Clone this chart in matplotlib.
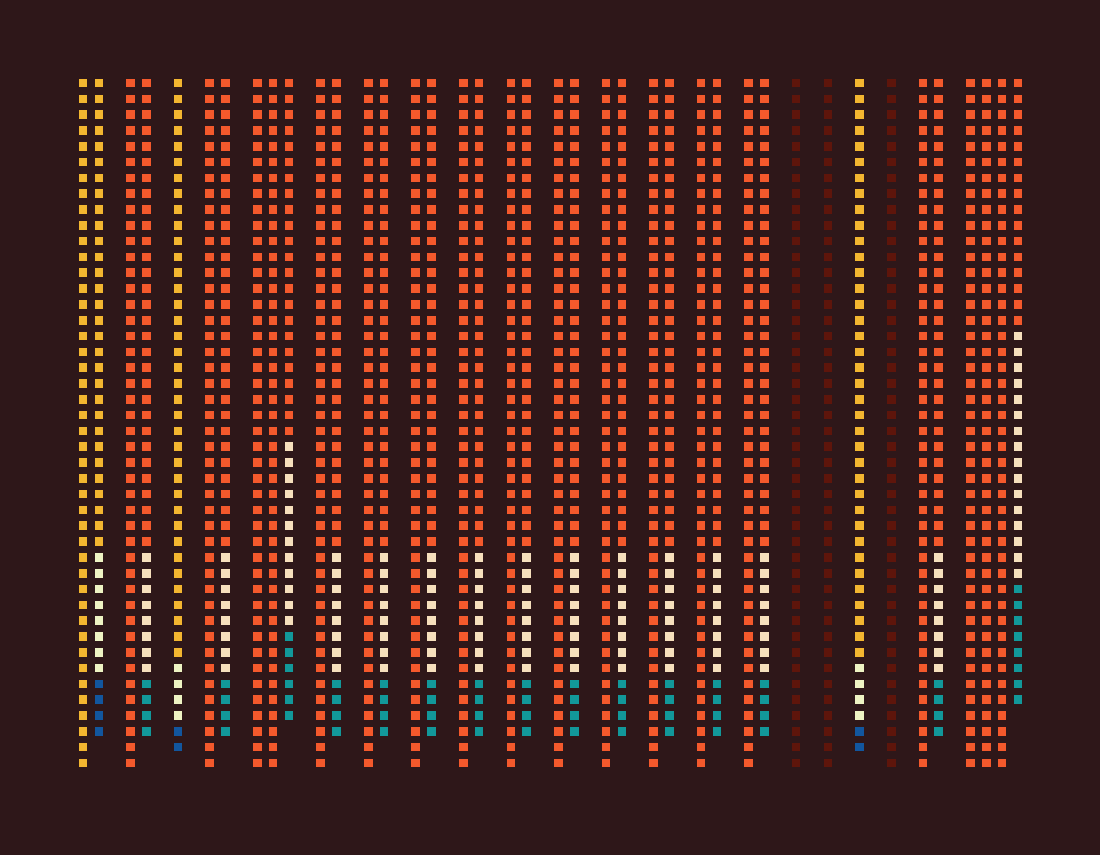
import matplotlib
matplotlib.use('Agg')
import matplotlib.pyplot as plt

# 每组: (列数, 色系, 各类数量)  — 按列从上到下填充
group_cols = [2, 2, 1, 2, 3, 2, 2, 2, 2, 2, 2, 2, 2, 2, 2, 1, 1, 1, 1, 2, 4]
group_family = ['Y', 'O', 'Y', 'O', 'O', 'O', 'O', 'O', 'O', 'O', 'O',
                'O', 'O', 'O', 'O', 'M', 'M', 'Y', 'M', 'O', 'O']
group_counts = [
    [74, 8, 4], [74, 8, 4], [37, 4, 2], [74, 8, 4], [111, 12, 6],
    [74, 8, 4], [74, 8, 4], [74, 8, 4], [74, 8, 4], [74, 8, 4],
    [74, 8, 4], [74, 8, 4], [74, 8, 4], [74, 8, 4], [74, 8, 4],
    [44], [44], [37, 4, 2], [44], [74, 8, 4], [148, 16, 8],
]

palette = {
    'Y': ['#F3B630', '#EEF3C3', '#12569E'],
    'O': ['#F4592C', '#F6DFBC', '#12989A'],
    'M': ['#5E150B'],
}
bg = '#2E1719'
n_rows = 44

fig = plt.figure(figsize=(11, 8.55), dpi=100)
fig.patch.set_facecolor(bg)
W, H = 1100, 855
pitch_x = (1018 - 83) / 59
pitch_y = (763 - 83) / 43
x0 = 83 - pitch_x / 2
x1 = 1018 + pitch_x / 2
y0 = 83 - pitch_y / 2
y1 = 763 + pitch_y / 2
ax = fig.add_axes([x0 / W, 1 - y1 / H, (x1 - x0) / W, (y1 - y0) / H])
ax.set_facecolor(bg)
ax.set_xlim(-0.5, 59.5)
ax.set_ylim(n_rows - 0.5, -0.5)
ax.axis('off')

xs, ys, cs = [], [], []
slot = 0
for ncol, fam, counts in zip(group_cols, group_family, group_counts):
    k = 0
    for ci, cnt in enumerate(counts):
        for _ in range(cnt):
            col, row = divmod(k, n_rows)
            xs.append(slot + col)
            ys.append(row)
            cs.append(palette[fam][ci])
            k += 1
    slot += ncol + 1

side_pt = 8.6 * 72 / 100
ax.scatter(xs, ys, c=cs, marker='s', s=side_pt ** 2, linewidths=0)

fig.savefig('out.png', dpi=100, facecolor=bg)
